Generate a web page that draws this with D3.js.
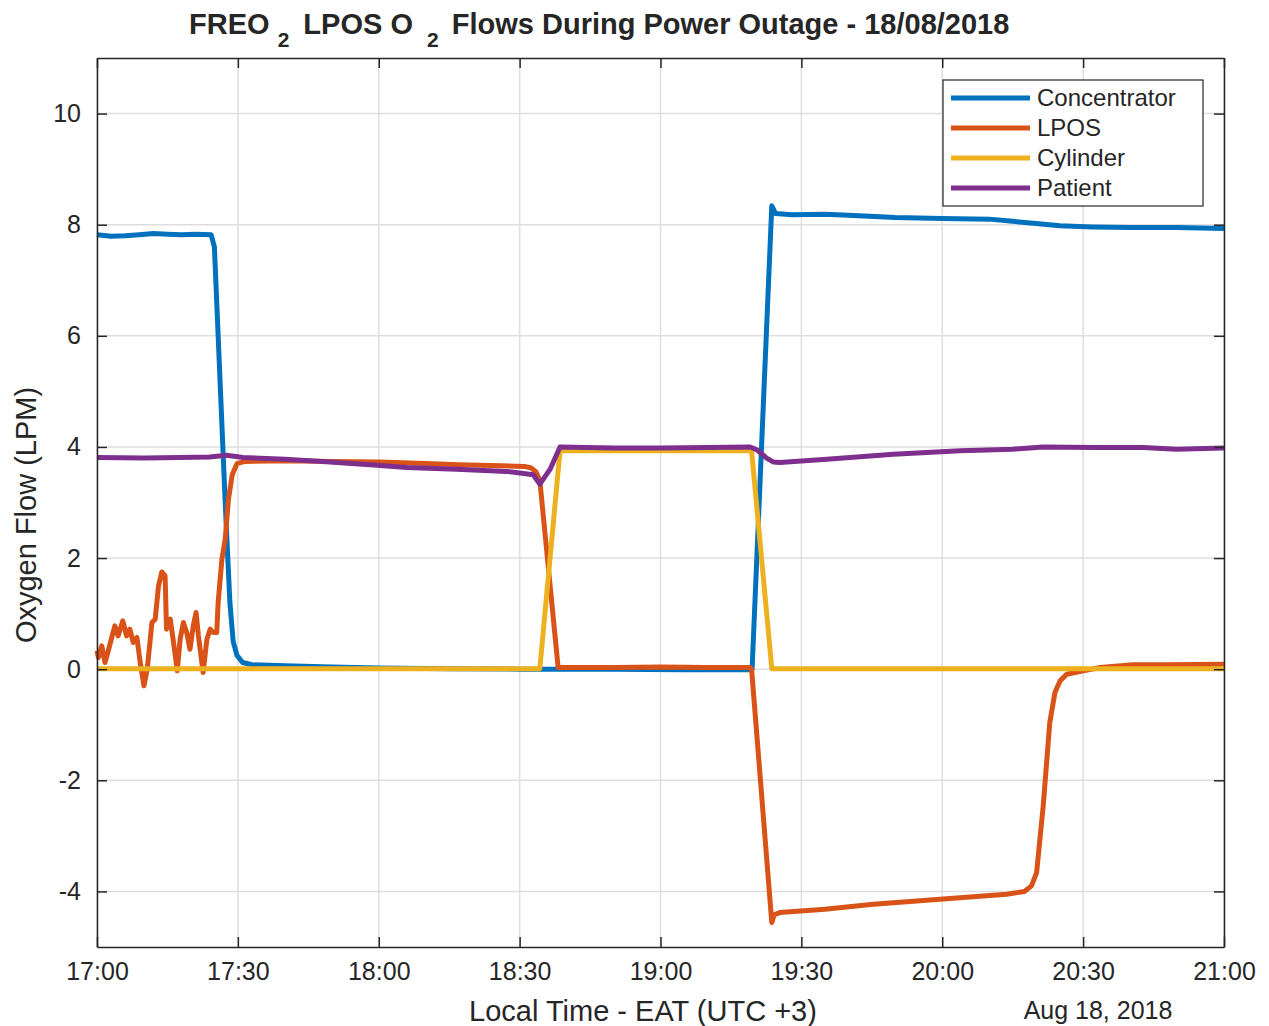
<!DOCTYPE html>
<html>
<head>
<meta charset="utf-8">
<script src="https://cdn.jsdelivr.net/npm/d3@7"></script>
<style>
  body { margin: 0; background: #fff; }
  text { font-family: "Liberation Sans", Arial, Helvetica, sans-serif; fill: #262626; }
</style>
</head>
<body>
<svg id="chart"></svg>
<script>
// minutes after 17:00 on 18 Aug 2018, flow in LPM
const concentrator = [[0,7.82],[3,7.79],[6,7.8],[9,7.82],[12,7.84],[15,7.83],[18,7.82],[21,7.83],[24.3,7.82],[25,7.6],[26,5.6],[27.3,3.0],[28.3,1.2],[29.0,0.5],[29.8,0.25],[31,0.12],[33,0.08],[40,0.06],[50,0.04],[60,0.02],[75,0.01],[90,0],[110,0],[125,-0.01],[139.5,-0.01],[143.7,8.34],[144.5,8.2],[148,8.18],[155,8.19],[160,8.17],[170,8.13],[180,8.11],[190,8.1],[195,8.06],[200,8.02],[205,7.98],[212,7.96],[220,7.95],[230,7.95],[240,7.93]];

const lpos = [[0,0.33],[0.3,0.21],[1.0,0.42],[1.7,0.12],[2.3,0.3],[3.8,0.78],[4.5,0.6],[5.5,0.87],[6.3,0.6],[7.0,0.72],[7.7,0.48],[8.5,0.57],[9.2,0.12],[10.0,-0.3],[10.7,0],[11.7,0.84],[12.4,0.9],[13.1,1.5],[13.8,1.75],[14.5,1.68],[14.8,0.72],[15.6,0.9],[16.3,0.48],[17.1,-0.03],[17.7,0.54],[18.4,0.84],[19.1,0.66],[19.8,0.36],[20.5,0.78],[21.1,1.02],[21.6,0.6],[22.6,-0.06],[23.4,0.54],[24.1,0.72],[24.8,0.66],[25.5,0.66],[25.8,1.2],[26.6,1.98],[27.3,2.34],[28.0,3.06],[28.8,3.5],[29.8,3.7],[31.5,3.74],[40,3.75],[50,3.74],[60,3.73],[70,3.7],[77,3.68],[86,3.66],[91,3.65],[92.5,3.62],[93.5,3.55],[94.3,3.4],[98.2,0.03],[110,0.03],[120,0.04],[130,0.03],[139.1,0.03],[139.4,0.0],[143.7,-4.56],[144.2,-4.42],[145.4,-4.38],[155,-4.32],[165.3,-4.23],[179.5,-4.14],[193.7,-4.05],[197.5,-4.0],[199.0,-3.9],[200.1,-3.66],[201.5,-2.46],[202.9,-0.96],[204.0,-0.42],[205.1,-0.21],[206.5,-0.09],[210.0,-0.03],[213.6,0.03],[220.6,0.08],[227.8,0.08],[240,0.09]];

const cylinder = [[0,0.01],[94.3,0.01],[98.6,3.93],[139.4,3.93],[143.7,0.01],[240,0.01]];

const patient = [[0,3.81],[10,3.8],[17.7,3.81],[24,3.82],[27.6,3.85],[31.1,3.81],[40,3.78],[48,3.74],[59.6,3.67],[66,3.63],[76.6,3.6],[87.2,3.56],[92.9,3.5],[94.3,3.33],[96.5,3.6],[98.6,4.0],[110,3.98],[120,3.98],[130,3.99],[139.1,4.0],[140.5,3.95],[142.6,3.8],[144,3.73],[145.4,3.72],[155.4,3.78],[169.6,3.87],[183.8,3.93],[195,3.96],[201.5,4.0],[212.2,3.99],[222.8,3.99],[229.9,3.96],[240,3.98]];

const seriesNames = ["Concentrator", "LPOS", "Cylinder", "Patient"];
const seriesColors = ["#0072BD", "#D95319", "#EDB120", "#7E2F8E"];
const yTicks = [-4, -2, 0, 2, 4, 6, 8, 10];

const width = 1269, height = 1026;
const margin = { top: 58, right: 45, bottom: 79, left: 97 };
const start = new Date(2018, 7, 18, 17, 0);
const toDate = m => new Date(start.getTime() + m * 60000);

const svg = d3.select("#chart").attr("width", width).attr("height", height);

const x = d3.scaleTime()
    .domain([start, toDate(240)])
    .range([margin.left, width - margin.right]);
const y = d3.scaleLinear()
    .domain([-5, 11])
    .range([height - margin.bottom, margin.top]);

const xTicks = d3.timeMinute.every(30).range(start, toDate(241));

// grid
svg.append("g").selectAll("line").data(xTicks).enter().append("line")
    .attr("x1", d => x(d)).attr("x2", d => x(d))
    .attr("y1", margin.top).attr("y2", height - margin.bottom)
    .attr("stroke", "#dedede").attr("stroke-width", 1.5);
svg.append("g").selectAll("line").data(yTicks).enter().append("line")
    .attr("x1", margin.left).attr("x2", width - margin.right)
    .attr("y1", d => y(d)).attr("y2", d => y(d))
    .attr("stroke", "#dedede").attr("stroke-width", 1.5);

// lines
const line = d3.line()
    .x(d => x(toDate(d[0])))
    .y(d => y(d[1]));

[concentrator, lpos, cylinder, patient].forEach((s, i) => {
    svg.append("path")
        .datum(s)
        .attr("d", line)
        .attr("fill", "none")
        .attr("stroke", seriesColors[i])
        .attr("stroke-width", 5)
        .attr("stroke-linejoin", "round");
});

// axes, ticks pointing inward
const styleAxis = g => {
    g.select(".domain").attr("stroke", "#262626").attr("stroke-width", 1.5);
    g.selectAll(".tick line").attr("stroke", "#262626").attr("stroke-width", 1.5);
    g.selectAll("text").style("font-size", "25px").attr("fill", "#262626");
};

svg.append("g")
    .attr("transform", `translate(0,${height - margin.bottom})`)
    .call(d3.axisBottom(x).tickValues(xTicks).tickFormat(d3.timeFormat("%H:%M"))
        .tickSizeInner(-10).tickSizeOuter(0).tickPadding(15))
    .call(styleAxis);
svg.append("g")
    .attr("transform", `translate(0,${margin.top})`)
    .call(d3.axisTop(x).tickValues(xTicks).tickFormat("")
        .tickSizeInner(-10).tickSizeOuter(0))
    .call(styleAxis);
svg.append("g")
    .attr("transform", `translate(${margin.left},0)`)
    .call(d3.axisLeft(y).tickValues(yTicks).tickFormat(d => String(d))
        .tickSizeInner(-10).tickSizeOuter(0).tickPadding(16))
    .call(styleAxis);
svg.append("g")
    .attr("transform", `translate(${width - margin.right},0)`)
    .call(d3.axisRight(y).tickValues(yTicks).tickFormat("")
        .tickSizeInner(-10).tickSizeOuter(0))
    .call(styleAxis);

// labels
svg.append("text")
    .attr("x", 643).attr("y", 1021)
    .attr("text-anchor", "middle")
    .style("font-size", "29px")
    .text("Local Time - EAT (UTC +3)");
svg.append("text")
    .attr("x", 1098).attr("y", 1019)
    .attr("text-anchor", "middle")
    .style("font-size", "25px")
    .text("Aug 18, 2018");
svg.append("text")
    .attr("transform", "translate(36,515) rotate(-90)")
    .attr("text-anchor", "middle")
    .style("font-size", "29px")
    .text("Oxygen Flow (LPM)");

// title with subscripts
const title = svg.append("text")
    .attr("x", 189).attr("y", 34)
    .style("font-size", "29px")
    .style("font-weight", "bold")
    .attr("fill", "#000");
title.append("tspan").text("FREO ");
title.append("tspan").attr("dy", 13).style("font-size", "21px").text("2");
title.append("tspan").attr("dy", -13).attr("dx", 6).text(" LPOS O ");
title.append("tspan").attr("dy", 13).attr("dx", 6).style("font-size", "21px").text("2");
title.append("tspan").attr("dy", -13).attr("dx", 5).text(" Flows During Power Outage - 18/08/2018");

// legend
const legend = svg.append("g").attr("transform", "translate(943,80)");
legend.append("rect")
    .attr("width", 260).attr("height", 126)
    .attr("fill", "#fff").attr("stroke", "#262626").attr("stroke-width", 1.2);
seriesNames.forEach((name, i) => {
    const ly = 18 + i * 30;
    legend.append("line")
        .attr("x1", 8).attr("x2", 87).attr("y1", ly).attr("y2", ly)
        .attr("stroke", seriesColors[i]).attr("stroke-width", 5);
    legend.append("text")
        .attr("x", 94).attr("y", ly + 8)
        .style("font-size", "24px")
        .attr("fill", "#000")
        .text(name);
});
</script>
</body>
</html>
